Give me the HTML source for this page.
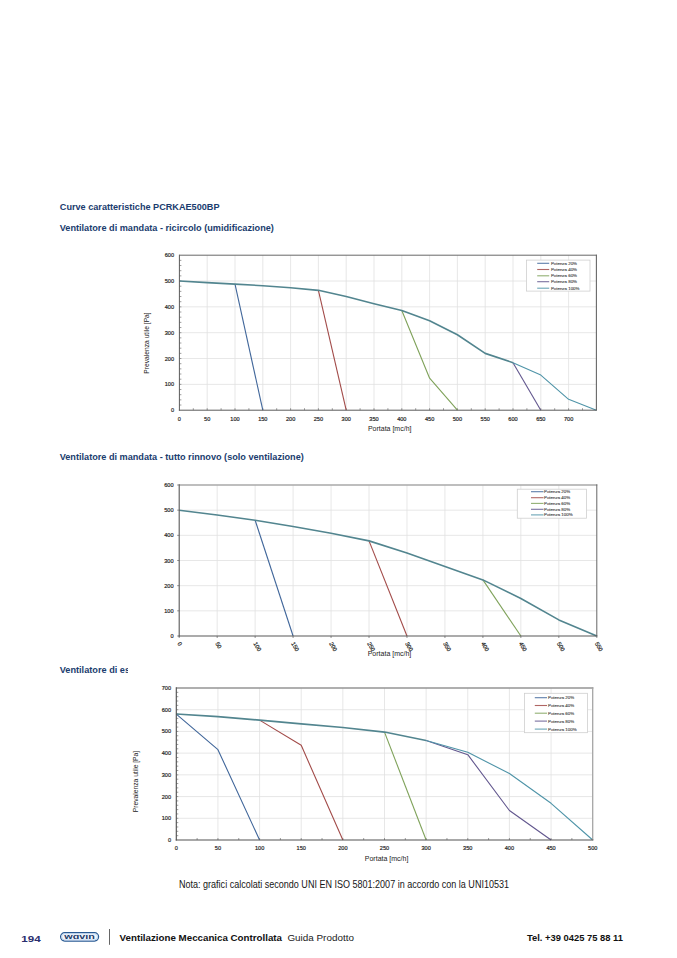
<!DOCTYPE html>
<html><head><meta charset="utf-8"><title>Curve caratteristiche</title>
<style>html,body{margin:0;padding:0;background:#fff;width:677px;height:958px;overflow:hidden}svg{display:block}text{font-family:"Liberation Sans",sans-serif}</style>
</head><body>
<svg width="677" height="958" viewBox="0 0 677 958">
<text x="59.80" y="209.80" font-size="9.6" font-weight="bold" fill="#1a3c6e" text-anchor="start" textLength="159.7" lengthAdjust="spacingAndGlyphs">Curve caratteristiche PCRKAE500BP</text>
<text x="59.70" y="230.90" font-size="9.6" font-weight="bold" fill="#1a3c6e" text-anchor="start" textLength="214.2" lengthAdjust="spacingAndGlyphs">Ventilatore di mandata - ricircolo (umidificazione)</text>
<text x="59.70" y="459.80" font-size="9.6" font-weight="bold" fill="#1a3c6e" text-anchor="start" textLength="244.1" lengthAdjust="spacingAndGlyphs">Ventilatore di mandata - tutto rinnovo (solo ventilazione)</text>
<clipPath id="h3c"><rect x="50" y="655" width="78" height="25"/></clipPath>
<text x="59.70" y="672.80" font-size="9.6" font-weight="bold" fill="#1a3c6e" text-anchor="start" textLength="108.1" lengthAdjust="spacingAndGlyphs" clip-path="url(#h3c)">Ventilatore di espulsione</text>
<rect x="128" y="245" width="480" height="195" fill="#fff"/>
<line x1="207.20" y1="255.20" x2="207.20" y2="410.20" stroke="#e1e1e1" stroke-width="0.8" />
<line x1="235.00" y1="255.20" x2="235.00" y2="410.20" stroke="#e1e1e1" stroke-width="0.8" />
<line x1="262.80" y1="255.20" x2="262.80" y2="410.20" stroke="#e1e1e1" stroke-width="0.8" />
<line x1="290.60" y1="255.20" x2="290.60" y2="410.20" stroke="#e1e1e1" stroke-width="0.8" />
<line x1="318.40" y1="255.20" x2="318.40" y2="410.20" stroke="#e1e1e1" stroke-width="0.8" />
<line x1="346.20" y1="255.20" x2="346.20" y2="410.20" stroke="#e1e1e1" stroke-width="0.8" />
<line x1="374.00" y1="255.20" x2="374.00" y2="410.20" stroke="#e1e1e1" stroke-width="0.8" />
<line x1="401.80" y1="255.20" x2="401.80" y2="410.20" stroke="#e1e1e1" stroke-width="0.8" />
<line x1="429.60" y1="255.20" x2="429.60" y2="410.20" stroke="#e1e1e1" stroke-width="0.8" />
<line x1="457.40" y1="255.20" x2="457.40" y2="410.20" stroke="#e1e1e1" stroke-width="0.8" />
<line x1="485.20" y1="255.20" x2="485.20" y2="410.20" stroke="#e1e1e1" stroke-width="0.8" />
<line x1="513.00" y1="255.20" x2="513.00" y2="410.20" stroke="#e1e1e1" stroke-width="0.8" />
<line x1="540.80" y1="255.20" x2="540.80" y2="410.20" stroke="#e1e1e1" stroke-width="0.8" />
<line x1="568.60" y1="255.20" x2="568.60" y2="410.20" stroke="#e1e1e1" stroke-width="0.8" />
<line x1="179.40" y1="384.37" x2="596.40" y2="384.37" stroke="#e1e1e1" stroke-width="0.8" />
<line x1="179.40" y1="358.53" x2="596.40" y2="358.53" stroke="#e1e1e1" stroke-width="0.8" />
<line x1="179.40" y1="332.70" x2="596.40" y2="332.70" stroke="#e1e1e1" stroke-width="0.8" />
<line x1="179.40" y1="306.87" x2="596.40" y2="306.87" stroke="#e1e1e1" stroke-width="0.8" />
<line x1="179.40" y1="281.03" x2="596.40" y2="281.03" stroke="#e1e1e1" stroke-width="0.8" />
<line x1="193.30" y1="410.20" x2="193.30" y2="408.20" stroke="#747474" stroke-width="0.7" />
<line x1="207.20" y1="410.20" x2="207.20" y2="408.20" stroke="#747474" stroke-width="0.7" />
<line x1="221.10" y1="410.20" x2="221.10" y2="408.20" stroke="#747474" stroke-width="0.7" />
<line x1="235.00" y1="410.20" x2="235.00" y2="408.20" stroke="#747474" stroke-width="0.7" />
<line x1="248.90" y1="410.20" x2="248.90" y2="408.20" stroke="#747474" stroke-width="0.7" />
<line x1="262.80" y1="410.20" x2="262.80" y2="408.20" stroke="#747474" stroke-width="0.7" />
<line x1="276.70" y1="410.20" x2="276.70" y2="408.20" stroke="#747474" stroke-width="0.7" />
<line x1="290.60" y1="410.20" x2="290.60" y2="408.20" stroke="#747474" stroke-width="0.7" />
<line x1="304.50" y1="410.20" x2="304.50" y2="408.20" stroke="#747474" stroke-width="0.7" />
<line x1="318.40" y1="410.20" x2="318.40" y2="408.20" stroke="#747474" stroke-width="0.7" />
<line x1="332.30" y1="410.20" x2="332.30" y2="408.20" stroke="#747474" stroke-width="0.7" />
<line x1="346.20" y1="410.20" x2="346.20" y2="408.20" stroke="#747474" stroke-width="0.7" />
<line x1="360.10" y1="410.20" x2="360.10" y2="408.20" stroke="#747474" stroke-width="0.7" />
<line x1="374.00" y1="410.20" x2="374.00" y2="408.20" stroke="#747474" stroke-width="0.7" />
<line x1="387.90" y1="410.20" x2="387.90" y2="408.20" stroke="#747474" stroke-width="0.7" />
<line x1="401.80" y1="410.20" x2="401.80" y2="408.20" stroke="#747474" stroke-width="0.7" />
<line x1="415.70" y1="410.20" x2="415.70" y2="408.20" stroke="#747474" stroke-width="0.7" />
<line x1="429.60" y1="410.20" x2="429.60" y2="408.20" stroke="#747474" stroke-width="0.7" />
<line x1="443.50" y1="410.20" x2="443.50" y2="408.20" stroke="#747474" stroke-width="0.7" />
<line x1="457.40" y1="410.20" x2="457.40" y2="408.20" stroke="#747474" stroke-width="0.7" />
<line x1="471.30" y1="410.20" x2="471.30" y2="408.20" stroke="#747474" stroke-width="0.7" />
<line x1="485.20" y1="410.20" x2="485.20" y2="408.20" stroke="#747474" stroke-width="0.7" />
<line x1="499.10" y1="410.20" x2="499.10" y2="408.20" stroke="#747474" stroke-width="0.7" />
<line x1="513.00" y1="410.20" x2="513.00" y2="408.20" stroke="#747474" stroke-width="0.7" />
<line x1="526.90" y1="410.20" x2="526.90" y2="408.20" stroke="#747474" stroke-width="0.7" />
<line x1="540.80" y1="410.20" x2="540.80" y2="408.20" stroke="#747474" stroke-width="0.7" />
<line x1="554.70" y1="410.20" x2="554.70" y2="408.20" stroke="#747474" stroke-width="0.7" />
<line x1="568.60" y1="410.20" x2="568.60" y2="408.20" stroke="#747474" stroke-width="0.7" />
<line x1="582.50" y1="410.20" x2="582.50" y2="408.20" stroke="#747474" stroke-width="0.7" />
<line x1="179.40" y1="405.03" x2="181.40" y2="405.03" stroke="#747474" stroke-width="0.7" />
<line x1="179.40" y1="399.87" x2="181.40" y2="399.87" stroke="#747474" stroke-width="0.7" />
<line x1="179.40" y1="394.70" x2="181.40" y2="394.70" stroke="#747474" stroke-width="0.7" />
<line x1="179.40" y1="389.53" x2="181.40" y2="389.53" stroke="#747474" stroke-width="0.7" />
<line x1="179.40" y1="384.37" x2="181.40" y2="384.37" stroke="#747474" stroke-width="0.7" />
<line x1="179.40" y1="379.20" x2="181.40" y2="379.20" stroke="#747474" stroke-width="0.7" />
<line x1="179.40" y1="374.03" x2="181.40" y2="374.03" stroke="#747474" stroke-width="0.7" />
<line x1="179.40" y1="368.87" x2="181.40" y2="368.87" stroke="#747474" stroke-width="0.7" />
<line x1="179.40" y1="363.70" x2="181.40" y2="363.70" stroke="#747474" stroke-width="0.7" />
<line x1="179.40" y1="358.53" x2="181.40" y2="358.53" stroke="#747474" stroke-width="0.7" />
<line x1="179.40" y1="353.37" x2="181.40" y2="353.37" stroke="#747474" stroke-width="0.7" />
<line x1="179.40" y1="348.20" x2="181.40" y2="348.20" stroke="#747474" stroke-width="0.7" />
<line x1="179.40" y1="343.03" x2="181.40" y2="343.03" stroke="#747474" stroke-width="0.7" />
<line x1="179.40" y1="337.87" x2="181.40" y2="337.87" stroke="#747474" stroke-width="0.7" />
<line x1="179.40" y1="332.70" x2="181.40" y2="332.70" stroke="#747474" stroke-width="0.7" />
<line x1="179.40" y1="327.53" x2="181.40" y2="327.53" stroke="#747474" stroke-width="0.7" />
<line x1="179.40" y1="322.37" x2="181.40" y2="322.37" stroke="#747474" stroke-width="0.7" />
<line x1="179.40" y1="317.20" x2="181.40" y2="317.20" stroke="#747474" stroke-width="0.7" />
<line x1="179.40" y1="312.03" x2="181.40" y2="312.03" stroke="#747474" stroke-width="0.7" />
<line x1="179.40" y1="306.87" x2="181.40" y2="306.87" stroke="#747474" stroke-width="0.7" />
<line x1="179.40" y1="301.70" x2="181.40" y2="301.70" stroke="#747474" stroke-width="0.7" />
<line x1="179.40" y1="296.53" x2="181.40" y2="296.53" stroke="#747474" stroke-width="0.7" />
<line x1="179.40" y1="291.37" x2="181.40" y2="291.37" stroke="#747474" stroke-width="0.7" />
<line x1="179.40" y1="286.20" x2="181.40" y2="286.20" stroke="#747474" stroke-width="0.7" />
<line x1="179.40" y1="281.03" x2="181.40" y2="281.03" stroke="#747474" stroke-width="0.7" />
<line x1="179.40" y1="275.87" x2="181.40" y2="275.87" stroke="#747474" stroke-width="0.7" />
<line x1="179.40" y1="270.70" x2="181.40" y2="270.70" stroke="#747474" stroke-width="0.7" />
<line x1="179.40" y1="265.53" x2="181.40" y2="265.53" stroke="#747474" stroke-width="0.7" />
<line x1="179.40" y1="260.37" x2="181.40" y2="260.37" stroke="#747474" stroke-width="0.7" />
<polyline points="235.00,284.13 262.80,410.20" fill="none" stroke="#40669a" stroke-width="1.1" stroke-linejoin="round" />
<polyline points="318.40,290.33 346.20,410.20" fill="none" stroke="#a24b49" stroke-width="1.1" stroke-linejoin="round" />
<polyline points="401.80,310.48 429.60,378.17 457.40,410.20" fill="none" stroke="#7fa25a" stroke-width="1.1" stroke-linejoin="round" />
<polyline points="513.00,362.67 540.80,410.20" fill="none" stroke="#62578e" stroke-width="1.1" stroke-linejoin="round" />
<polyline points="513.00,362.67 540.80,375.07 568.60,399.35 596.40,410.20" fill="none" stroke="#4f94a8" stroke-width="1.1" stroke-linejoin="round" />
<polyline points="179.40,281.03 207.20,282.58 235.00,284.13 262.80,285.68 290.60,287.75 318.40,290.33 346.20,296.53 374.00,303.77 401.80,310.48 429.60,320.82 457.40,334.77 485.20,353.37 513.00,362.67" fill="none" stroke="#52858f" stroke-width="1.6" stroke-linejoin="round" />
<line x1="179.40" y1="255.20" x2="596.95" y2="255.20" stroke="#676767" stroke-width="1.0" />
<line x1="596.40" y1="254.70" x2="596.40" y2="410.20" stroke="#676767" stroke-width="1.1" />
<line x1="179.40" y1="254.70" x2="179.40" y2="410.70" stroke="#5a5a5a" stroke-width="1.0" />
<line x1="178.90" y1="410.20" x2="596.90" y2="410.20" stroke="#5a5a5a" stroke-width="1.0" />
<text x="174.00" y="412.22" font-size="5.6" font-weight="normal" fill="#222" text-anchor="end" stroke="#222" stroke-width="0.18">0</text>
<text x="174.00" y="386.38" font-size="5.6" font-weight="normal" fill="#222" text-anchor="end" stroke="#222" stroke-width="0.18">100</text>
<text x="174.00" y="360.55" font-size="5.6" font-weight="normal" fill="#222" text-anchor="end" stroke="#222" stroke-width="0.18">200</text>
<text x="174.00" y="334.72" font-size="5.6" font-weight="normal" fill="#222" text-anchor="end" stroke="#222" stroke-width="0.18">300</text>
<text x="174.00" y="308.88" font-size="5.6" font-weight="normal" fill="#222" text-anchor="end" stroke="#222" stroke-width="0.18">400</text>
<text x="174.00" y="283.05" font-size="5.6" font-weight="normal" fill="#222" text-anchor="end" stroke="#222" stroke-width="0.18">500</text>
<text x="174.00" y="257.22" font-size="5.6" font-weight="normal" fill="#222" text-anchor="end" stroke="#222" stroke-width="0.18">600</text>
<text x="179.40" y="420.60" font-size="5.6" font-weight="normal" fill="#222" text-anchor="middle" stroke="#222" stroke-width="0.18">0</text>
<text x="207.20" y="420.60" font-size="5.6" font-weight="normal" fill="#222" text-anchor="middle" stroke="#222" stroke-width="0.18">50</text>
<text x="235.00" y="420.60" font-size="5.6" font-weight="normal" fill="#222" text-anchor="middle" stroke="#222" stroke-width="0.18">100</text>
<text x="262.80" y="420.60" font-size="5.6" font-weight="normal" fill="#222" text-anchor="middle" stroke="#222" stroke-width="0.18">150</text>
<text x="290.60" y="420.60" font-size="5.6" font-weight="normal" fill="#222" text-anchor="middle" stroke="#222" stroke-width="0.18">200</text>
<text x="318.40" y="420.60" font-size="5.6" font-weight="normal" fill="#222" text-anchor="middle" stroke="#222" stroke-width="0.18">250</text>
<text x="346.20" y="420.60" font-size="5.6" font-weight="normal" fill="#222" text-anchor="middle" stroke="#222" stroke-width="0.18">300</text>
<text x="374.00" y="420.60" font-size="5.6" font-weight="normal" fill="#222" text-anchor="middle" stroke="#222" stroke-width="0.18">350</text>
<text x="401.80" y="420.60" font-size="5.6" font-weight="normal" fill="#222" text-anchor="middle" stroke="#222" stroke-width="0.18">400</text>
<text x="429.60" y="420.60" font-size="5.6" font-weight="normal" fill="#222" text-anchor="middle" stroke="#222" stroke-width="0.18">450</text>
<text x="457.40" y="420.60" font-size="5.6" font-weight="normal" fill="#222" text-anchor="middle" stroke="#222" stroke-width="0.18">500</text>
<text x="485.20" y="420.60" font-size="5.6" font-weight="normal" fill="#222" text-anchor="middle" stroke="#222" stroke-width="0.18">550</text>
<text x="513.00" y="420.60" font-size="5.6" font-weight="normal" fill="#222" text-anchor="middle" stroke="#222" stroke-width="0.18">600</text>
<text x="540.80" y="420.60" font-size="5.6" font-weight="normal" fill="#222" text-anchor="middle" stroke="#222" stroke-width="0.18">650</text>
<text x="568.60" y="420.60" font-size="5.6" font-weight="normal" fill="#222" text-anchor="middle" stroke="#222" stroke-width="0.18">700</text>
<text x="389.70" y="430.50" font-size="7" font-weight="normal" fill="#222" text-anchor="middle" >Portata [mc/h]</text>
<text x="148.50" y="343.00" font-size="6.7" font-weight="normal" fill="#222" text-anchor="middle" transform="rotate(-90 148.50 343.00)">Prevalenza utile [Pa]</text>
<rect x="526.6" y="260.1" width="63.4" height="31.0" fill="#fff" stroke="#cfcfcf" stroke-width="0.8"/>
<line x1="537.20" y1="263.30" x2="549.20" y2="263.30" stroke="#40669a" stroke-width="1.1" stroke-opacity="0.85"/>
<text x="550.90" y="264.88" font-size="4.4" font-weight="normal" fill="#3a3a3a" text-anchor="start" stroke="#3a3a3a" stroke-width="0.1">Potenza 20%</text>
<line x1="537.20" y1="269.50" x2="549.20" y2="269.50" stroke="#a24b49" stroke-width="1.1" stroke-opacity="0.85"/>
<text x="550.90" y="271.08" font-size="4.4" font-weight="normal" fill="#3a3a3a" text-anchor="start" stroke="#3a3a3a" stroke-width="0.1">Potenza 40%</text>
<line x1="537.20" y1="275.80" x2="549.20" y2="275.80" stroke="#7fa25a" stroke-width="1.1" stroke-opacity="0.85"/>
<text x="550.90" y="277.38" font-size="4.4" font-weight="normal" fill="#3a3a3a" text-anchor="start" stroke="#3a3a3a" stroke-width="0.1">Potenza 60%</text>
<line x1="537.20" y1="281.70" x2="549.20" y2="281.70" stroke="#62578e" stroke-width="1.1" stroke-opacity="0.85"/>
<text x="550.90" y="283.28" font-size="4.4" font-weight="normal" fill="#3a3a3a" text-anchor="start" stroke="#3a3a3a" stroke-width="0.1">Potenza 80%</text>
<line x1="537.20" y1="288.20" x2="549.20" y2="288.20" stroke="#4f94a8" stroke-width="1.1" stroke-opacity="0.85"/>
<text x="550.90" y="289.78" font-size="4.4" font-weight="normal" fill="#3a3a3a" text-anchor="start" stroke="#3a3a3a" stroke-width="0.1">Potenza 100%</text>
<rect x="128" y="475" width="480" height="190" fill="#fff"/>
<line x1="217.16" y1="485.00" x2="217.16" y2="636.00" stroke="#e1e1e1" stroke-width="0.8" />
<line x1="255.13" y1="485.00" x2="255.13" y2="636.00" stroke="#e1e1e1" stroke-width="0.8" />
<line x1="293.09" y1="485.00" x2="293.09" y2="636.00" stroke="#e1e1e1" stroke-width="0.8" />
<line x1="331.05" y1="485.00" x2="331.05" y2="636.00" stroke="#e1e1e1" stroke-width="0.8" />
<line x1="369.02" y1="485.00" x2="369.02" y2="636.00" stroke="#e1e1e1" stroke-width="0.8" />
<line x1="406.98" y1="485.00" x2="406.98" y2="636.00" stroke="#e1e1e1" stroke-width="0.8" />
<line x1="444.95" y1="485.00" x2="444.95" y2="636.00" stroke="#e1e1e1" stroke-width="0.8" />
<line x1="482.91" y1="485.00" x2="482.91" y2="636.00" stroke="#e1e1e1" stroke-width="0.8" />
<line x1="520.87" y1="485.00" x2="520.87" y2="636.00" stroke="#e1e1e1" stroke-width="0.8" />
<line x1="558.84" y1="485.00" x2="558.84" y2="636.00" stroke="#e1e1e1" stroke-width="0.8" />
<line x1="179.20" y1="610.83" x2="596.80" y2="610.83" stroke="#e1e1e1" stroke-width="0.8" />
<line x1="179.20" y1="585.67" x2="596.80" y2="585.67" stroke="#e1e1e1" stroke-width="0.8" />
<line x1="179.20" y1="560.50" x2="596.80" y2="560.50" stroke="#e1e1e1" stroke-width="0.8" />
<line x1="179.20" y1="535.33" x2="596.80" y2="535.33" stroke="#e1e1e1" stroke-width="0.8" />
<line x1="179.20" y1="510.17" x2="596.80" y2="510.17" stroke="#e1e1e1" stroke-width="0.8" />
<line x1="179.20" y1="636.00" x2="179.20" y2="638.00" stroke="#747474" stroke-width="0.8" />
<line x1="217.16" y1="636.00" x2="217.16" y2="638.00" stroke="#747474" stroke-width="0.8" />
<line x1="255.13" y1="636.00" x2="255.13" y2="638.00" stroke="#747474" stroke-width="0.8" />
<line x1="293.09" y1="636.00" x2="293.09" y2="638.00" stroke="#747474" stroke-width="0.8" />
<line x1="331.05" y1="636.00" x2="331.05" y2="638.00" stroke="#747474" stroke-width="0.8" />
<line x1="369.02" y1="636.00" x2="369.02" y2="638.00" stroke="#747474" stroke-width="0.8" />
<line x1="406.98" y1="636.00" x2="406.98" y2="638.00" stroke="#747474" stroke-width="0.8" />
<line x1="444.95" y1="636.00" x2="444.95" y2="638.00" stroke="#747474" stroke-width="0.8" />
<line x1="482.91" y1="636.00" x2="482.91" y2="638.00" stroke="#747474" stroke-width="0.8" />
<line x1="520.87" y1="636.00" x2="520.87" y2="638.00" stroke="#747474" stroke-width="0.8" />
<line x1="558.84" y1="636.00" x2="558.84" y2="638.00" stroke="#747474" stroke-width="0.8" />
<line x1="596.80" y1="636.00" x2="596.80" y2="638.00" stroke="#747474" stroke-width="0.8" />
<line x1="177.20" y1="636.00" x2="179.20" y2="636.00" stroke="#747474" stroke-width="0.8" />
<line x1="177.20" y1="610.83" x2="179.20" y2="610.83" stroke="#747474" stroke-width="0.8" />
<line x1="177.20" y1="585.67" x2="179.20" y2="585.67" stroke="#747474" stroke-width="0.8" />
<line x1="177.20" y1="560.50" x2="179.20" y2="560.50" stroke="#747474" stroke-width="0.8" />
<line x1="177.20" y1="535.33" x2="179.20" y2="535.33" stroke="#747474" stroke-width="0.8" />
<line x1="177.20" y1="510.17" x2="179.20" y2="510.17" stroke="#747474" stroke-width="0.8" />
<line x1="177.20" y1="485.00" x2="179.20" y2="485.00" stroke="#747474" stroke-width="0.8" />
<polyline points="255.13,520.23 293.09,636.00" fill="none" stroke="#40669a" stroke-width="1.1" stroke-linejoin="round" />
<polyline points="369.02,540.87 406.98,636.00" fill="none" stroke="#a24b49" stroke-width="1.1" stroke-linejoin="round" />
<polyline points="482.91,579.88 520.87,636.00" fill="none" stroke="#7fa25a" stroke-width="1.1" stroke-linejoin="round" />
<polyline points="179.20,510.17 217.16,514.95 255.13,520.23 293.09,526.52 331.05,533.32 369.02,540.87 406.98,552.95 444.95,566.54 482.91,579.88 520.87,598.50 558.84,619.89 596.80,636.00" fill="none" stroke="#52858f" stroke-width="1.6" stroke-linejoin="round" />
<line x1="179.20" y1="485.00" x2="597.30" y2="485.00" stroke="#a8a8a8" stroke-width="1.3" />
<line x1="596.80" y1="484.35" x2="596.80" y2="636.00" stroke="#666666" stroke-width="1.0" />
<line x1="179.20" y1="484.35" x2="179.20" y2="636.55" stroke="#585858" stroke-width="1.1" />
<line x1="178.65" y1="636.00" x2="597.45" y2="636.00" stroke="#585858" stroke-width="1.1" />
<text x="173.50" y="638.02" font-size="5.6" font-weight="normal" fill="#222" text-anchor="end" stroke="#222" stroke-width="0.18">0</text>
<text x="173.50" y="612.85" font-size="5.6" font-weight="normal" fill="#222" text-anchor="end" stroke="#222" stroke-width="0.18">100</text>
<text x="173.50" y="587.68" font-size="5.6" font-weight="normal" fill="#222" text-anchor="end" stroke="#222" stroke-width="0.18">200</text>
<text x="173.50" y="562.52" font-size="5.6" font-weight="normal" fill="#222" text-anchor="end" stroke="#222" stroke-width="0.18">300</text>
<text x="173.50" y="537.35" font-size="5.6" font-weight="normal" fill="#222" text-anchor="end" stroke="#222" stroke-width="0.18">400</text>
<text x="173.50" y="512.18" font-size="5.6" font-weight="normal" fill="#222" text-anchor="end" stroke="#222" stroke-width="0.18">500</text>
<text x="173.50" y="487.02" font-size="5.6" font-weight="normal" fill="#222" text-anchor="end" stroke="#222" stroke-width="0.18">600</text>
<text x="177.20" y="643.40" font-size="5.85" font-weight="normal" fill="#222" text-anchor="start" stroke="#222" stroke-width="0.18" transform="rotate(60 177.20 643.40)">0</text>
<text x="215.16" y="643.40" font-size="5.85" font-weight="normal" fill="#222" text-anchor="start" stroke="#222" stroke-width="0.18" transform="rotate(60 215.16 643.40)">50</text>
<text x="253.13" y="643.40" font-size="5.85" font-weight="normal" fill="#222" text-anchor="start" stroke="#222" stroke-width="0.18" transform="rotate(60 253.13 643.40)">100</text>
<text x="291.09" y="643.40" font-size="5.85" font-weight="normal" fill="#222" text-anchor="start" stroke="#222" stroke-width="0.18" transform="rotate(60 291.09 643.40)">150</text>
<text x="329.05" y="643.40" font-size="5.85" font-weight="normal" fill="#222" text-anchor="start" stroke="#222" stroke-width="0.18" transform="rotate(60 329.05 643.40)">200</text>
<text x="367.02" y="643.40" font-size="5.85" font-weight="normal" fill="#222" text-anchor="start" stroke="#222" stroke-width="0.18" transform="rotate(60 367.02 643.40)">250</text>
<text x="404.98" y="643.40" font-size="5.85" font-weight="normal" fill="#222" text-anchor="start" stroke="#222" stroke-width="0.18" transform="rotate(60 404.98 643.40)">300</text>
<text x="442.95" y="643.40" font-size="5.85" font-weight="normal" fill="#222" text-anchor="start" stroke="#222" stroke-width="0.18" transform="rotate(60 442.95 643.40)">350</text>
<text x="480.91" y="643.40" font-size="5.85" font-weight="normal" fill="#222" text-anchor="start" stroke="#222" stroke-width="0.18" transform="rotate(60 480.91 643.40)">400</text>
<text x="518.87" y="643.40" font-size="5.85" font-weight="normal" fill="#222" text-anchor="start" stroke="#222" stroke-width="0.18" transform="rotate(60 518.87 643.40)">450</text>
<text x="556.84" y="643.40" font-size="5.85" font-weight="normal" fill="#222" text-anchor="start" stroke="#222" stroke-width="0.18" transform="rotate(60 556.84 643.40)">500</text>
<text x="594.80" y="643.40" font-size="5.85" font-weight="normal" fill="#222" text-anchor="start" stroke="#222" stroke-width="0.18" transform="rotate(60 594.80 643.40)">550</text>
<text x="389.50" y="655.50" font-size="7" font-weight="normal" fill="#222" text-anchor="middle" >Portata [mc/h]</text>
<rect x="517.3" y="489.2" width="69.2" height="29.0" fill="#fff" stroke="#cfcfcf" stroke-width="0.8"/>
<line x1="531.00" y1="491.70" x2="543.50" y2="491.70" stroke="#40669a" stroke-width="1.1" stroke-opacity="0.85"/>
<text x="544.00" y="493.28" font-size="4.4" font-weight="normal" fill="#3a3a3a" text-anchor="start" stroke="#3a3a3a" stroke-width="0.1">Potenza 20%</text>
<line x1="531.00" y1="497.70" x2="543.50" y2="497.70" stroke="#a24b49" stroke-width="1.1" stroke-opacity="0.85"/>
<text x="544.00" y="499.28" font-size="4.4" font-weight="normal" fill="#3a3a3a" text-anchor="start" stroke="#3a3a3a" stroke-width="0.1">Potenza 40%</text>
<line x1="531.00" y1="503.40" x2="543.50" y2="503.40" stroke="#7fa25a" stroke-width="1.1" stroke-opacity="0.85"/>
<text x="544.00" y="504.98" font-size="4.4" font-weight="normal" fill="#3a3a3a" text-anchor="start" stroke="#3a3a3a" stroke-width="0.1">Potenza 60%</text>
<line x1="531.00" y1="509.30" x2="543.50" y2="509.30" stroke="#62578e" stroke-width="1.1" stroke-opacity="0.85"/>
<text x="544.00" y="510.88" font-size="4.4" font-weight="normal" fill="#3a3a3a" text-anchor="start" stroke="#3a3a3a" stroke-width="0.1">Potenza 80%</text>
<line x1="531.00" y1="514.90" x2="543.50" y2="514.90" stroke="#4f94a8" stroke-width="1.1" stroke-opacity="0.85"/>
<text x="544.00" y="516.48" font-size="4.4" font-weight="normal" fill="#3a3a3a" text-anchor="start" stroke="#3a3a3a" stroke-width="0.1">Potenza 100%</text>
<rect x="128" y="680" width="480" height="190" fill="#fff"/>
<line x1="217.94" y1="688.00" x2="217.94" y2="840.00" stroke="#e1e1e1" stroke-width="0.8" />
<line x1="259.58" y1="688.00" x2="259.58" y2="840.00" stroke="#e1e1e1" stroke-width="0.8" />
<line x1="301.22" y1="688.00" x2="301.22" y2="840.00" stroke="#e1e1e1" stroke-width="0.8" />
<line x1="342.86" y1="688.00" x2="342.86" y2="840.00" stroke="#e1e1e1" stroke-width="0.8" />
<line x1="384.50" y1="688.00" x2="384.50" y2="840.00" stroke="#e1e1e1" stroke-width="0.8" />
<line x1="426.14" y1="688.00" x2="426.14" y2="840.00" stroke="#e1e1e1" stroke-width="0.8" />
<line x1="467.78" y1="688.00" x2="467.78" y2="840.00" stroke="#e1e1e1" stroke-width="0.8" />
<line x1="509.42" y1="688.00" x2="509.42" y2="840.00" stroke="#e1e1e1" stroke-width="0.8" />
<line x1="551.06" y1="688.00" x2="551.06" y2="840.00" stroke="#e1e1e1" stroke-width="0.8" />
<line x1="176.30" y1="818.29" x2="592.70" y2="818.29" stroke="#e1e1e1" stroke-width="0.8" />
<line x1="176.30" y1="796.57" x2="592.70" y2="796.57" stroke="#e1e1e1" stroke-width="0.8" />
<line x1="176.30" y1="774.86" x2="592.70" y2="774.86" stroke="#e1e1e1" stroke-width="0.8" />
<line x1="176.30" y1="753.14" x2="592.70" y2="753.14" stroke="#e1e1e1" stroke-width="0.8" />
<line x1="176.30" y1="731.43" x2="592.70" y2="731.43" stroke="#e1e1e1" stroke-width="0.8" />
<line x1="176.30" y1="709.71" x2="592.70" y2="709.71" stroke="#e1e1e1" stroke-width="0.8" />
<line x1="197.12" y1="840.00" x2="197.12" y2="838.00" stroke="#747474" stroke-width="0.7" />
<line x1="217.94" y1="840.00" x2="217.94" y2="838.00" stroke="#747474" stroke-width="0.7" />
<line x1="238.76" y1="840.00" x2="238.76" y2="838.00" stroke="#747474" stroke-width="0.7" />
<line x1="259.58" y1="840.00" x2="259.58" y2="838.00" stroke="#747474" stroke-width="0.7" />
<line x1="280.40" y1="840.00" x2="280.40" y2="838.00" stroke="#747474" stroke-width="0.7" />
<line x1="301.22" y1="840.00" x2="301.22" y2="838.00" stroke="#747474" stroke-width="0.7" />
<line x1="322.04" y1="840.00" x2="322.04" y2="838.00" stroke="#747474" stroke-width="0.7" />
<line x1="342.86" y1="840.00" x2="342.86" y2="838.00" stroke="#747474" stroke-width="0.7" />
<line x1="363.68" y1="840.00" x2="363.68" y2="838.00" stroke="#747474" stroke-width="0.7" />
<line x1="384.50" y1="840.00" x2="384.50" y2="838.00" stroke="#747474" stroke-width="0.7" />
<line x1="405.32" y1="840.00" x2="405.32" y2="838.00" stroke="#747474" stroke-width="0.7" />
<line x1="426.14" y1="840.00" x2="426.14" y2="838.00" stroke="#747474" stroke-width="0.7" />
<line x1="446.96" y1="840.00" x2="446.96" y2="838.00" stroke="#747474" stroke-width="0.7" />
<line x1="467.78" y1="840.00" x2="467.78" y2="838.00" stroke="#747474" stroke-width="0.7" />
<line x1="488.60" y1="840.00" x2="488.60" y2="838.00" stroke="#747474" stroke-width="0.7" />
<line x1="509.42" y1="840.00" x2="509.42" y2="838.00" stroke="#747474" stroke-width="0.7" />
<line x1="530.24" y1="840.00" x2="530.24" y2="838.00" stroke="#747474" stroke-width="0.7" />
<line x1="551.06" y1="840.00" x2="551.06" y2="838.00" stroke="#747474" stroke-width="0.7" />
<line x1="571.88" y1="840.00" x2="571.88" y2="838.00" stroke="#747474" stroke-width="0.7" />
<line x1="176.30" y1="835.66" x2="178.30" y2="835.66" stroke="#747474" stroke-width="0.7" />
<line x1="176.30" y1="831.31" x2="178.30" y2="831.31" stroke="#747474" stroke-width="0.7" />
<line x1="176.30" y1="826.97" x2="178.30" y2="826.97" stroke="#747474" stroke-width="0.7" />
<line x1="176.30" y1="822.63" x2="178.30" y2="822.63" stroke="#747474" stroke-width="0.7" />
<line x1="176.30" y1="818.29" x2="178.30" y2="818.29" stroke="#747474" stroke-width="0.7" />
<line x1="176.30" y1="813.94" x2="178.30" y2="813.94" stroke="#747474" stroke-width="0.7" />
<line x1="176.30" y1="809.60" x2="178.30" y2="809.60" stroke="#747474" stroke-width="0.7" />
<line x1="176.30" y1="805.26" x2="178.30" y2="805.26" stroke="#747474" stroke-width="0.7" />
<line x1="176.30" y1="800.91" x2="178.30" y2="800.91" stroke="#747474" stroke-width="0.7" />
<line x1="176.30" y1="796.57" x2="178.30" y2="796.57" stroke="#747474" stroke-width="0.7" />
<line x1="176.30" y1="792.23" x2="178.30" y2="792.23" stroke="#747474" stroke-width="0.7" />
<line x1="176.30" y1="787.89" x2="178.30" y2="787.89" stroke="#747474" stroke-width="0.7" />
<line x1="176.30" y1="783.54" x2="178.30" y2="783.54" stroke="#747474" stroke-width="0.7" />
<line x1="176.30" y1="779.20" x2="178.30" y2="779.20" stroke="#747474" stroke-width="0.7" />
<line x1="176.30" y1="774.86" x2="178.30" y2="774.86" stroke="#747474" stroke-width="0.7" />
<line x1="176.30" y1="770.51" x2="178.30" y2="770.51" stroke="#747474" stroke-width="0.7" />
<line x1="176.30" y1="766.17" x2="178.30" y2="766.17" stroke="#747474" stroke-width="0.7" />
<line x1="176.30" y1="761.83" x2="178.30" y2="761.83" stroke="#747474" stroke-width="0.7" />
<line x1="176.30" y1="757.49" x2="178.30" y2="757.49" stroke="#747474" stroke-width="0.7" />
<line x1="176.30" y1="753.14" x2="178.30" y2="753.14" stroke="#747474" stroke-width="0.7" />
<line x1="176.30" y1="748.80" x2="178.30" y2="748.80" stroke="#747474" stroke-width="0.7" />
<line x1="176.30" y1="744.46" x2="178.30" y2="744.46" stroke="#747474" stroke-width="0.7" />
<line x1="176.30" y1="740.11" x2="178.30" y2="740.11" stroke="#747474" stroke-width="0.7" />
<line x1="176.30" y1="735.77" x2="178.30" y2="735.77" stroke="#747474" stroke-width="0.7" />
<line x1="176.30" y1="731.43" x2="178.30" y2="731.43" stroke="#747474" stroke-width="0.7" />
<line x1="176.30" y1="727.09" x2="178.30" y2="727.09" stroke="#747474" stroke-width="0.7" />
<line x1="176.30" y1="722.74" x2="178.30" y2="722.74" stroke="#747474" stroke-width="0.7" />
<line x1="176.30" y1="718.40" x2="178.30" y2="718.40" stroke="#747474" stroke-width="0.7" />
<line x1="176.30" y1="714.06" x2="178.30" y2="714.06" stroke="#747474" stroke-width="0.7" />
<line x1="176.30" y1="709.71" x2="178.30" y2="709.71" stroke="#747474" stroke-width="0.7" />
<line x1="176.30" y1="705.37" x2="178.30" y2="705.37" stroke="#747474" stroke-width="0.7" />
<line x1="176.30" y1="701.03" x2="178.30" y2="701.03" stroke="#747474" stroke-width="0.7" />
<line x1="176.30" y1="696.69" x2="178.30" y2="696.69" stroke="#747474" stroke-width="0.7" />
<line x1="176.30" y1="692.34" x2="178.30" y2="692.34" stroke="#747474" stroke-width="0.7" />
<polyline points="176.30,714.06 217.94,749.67 259.58,840.00" fill="none" stroke="#40669a" stroke-width="1.1" stroke-linejoin="round" />
<polyline points="259.58,720.14 301.22,745.33 342.86,840.00" fill="none" stroke="#a24b49" stroke-width="1.1" stroke-linejoin="round" />
<polyline points="384.50,732.08 426.14,840.00" fill="none" stroke="#7fa25a" stroke-width="1.1" stroke-linejoin="round" />
<polyline points="426.14,740.55 467.78,754.66 509.42,810.47 551.06,840.00" fill="none" stroke="#62578e" stroke-width="1.1" stroke-linejoin="round" />
<polyline points="426.14,740.55 467.78,752.27 509.42,773.55 551.06,803.30 592.70,840.00" fill="none" stroke="#4f94a8" stroke-width="1.1" stroke-linejoin="round" />
<polyline points="176.30,714.06 217.94,716.66 259.58,720.14 301.22,723.83 342.86,727.52 384.50,732.08 426.14,740.55" fill="none" stroke="#52858f" stroke-width="1.6" stroke-linejoin="round" />
<line x1="176.30" y1="688.00" x2="593.35" y2="688.00" stroke="#959595" stroke-width="1.4" />
<line x1="592.70" y1="687.30" x2="592.70" y2="840.00" stroke="#a5a5a5" stroke-width="1.3" />
<line x1="176.30" y1="687.30" x2="176.30" y2="840.58" stroke="#525252" stroke-width="1.15" />
<line x1="175.73" y1="840.00" x2="593.40" y2="840.00" stroke="#525252" stroke-width="1.15" />
<text x="171.00" y="842.02" font-size="5.6" font-weight="normal" fill="#222" text-anchor="end" stroke="#222" stroke-width="0.18">0</text>
<text x="171.00" y="820.30" font-size="5.6" font-weight="normal" fill="#222" text-anchor="end" stroke="#222" stroke-width="0.18">100</text>
<text x="171.00" y="798.59" font-size="5.6" font-weight="normal" fill="#222" text-anchor="end" stroke="#222" stroke-width="0.18">200</text>
<text x="171.00" y="776.87" font-size="5.6" font-weight="normal" fill="#222" text-anchor="end" stroke="#222" stroke-width="0.18">300</text>
<text x="171.00" y="755.16" font-size="5.6" font-weight="normal" fill="#222" text-anchor="end" stroke="#222" stroke-width="0.18">400</text>
<text x="171.00" y="733.44" font-size="5.6" font-weight="normal" fill="#222" text-anchor="end" stroke="#222" stroke-width="0.18">500</text>
<text x="171.00" y="711.73" font-size="5.6" font-weight="normal" fill="#222" text-anchor="end" stroke="#222" stroke-width="0.18">600</text>
<text x="171.00" y="690.02" font-size="5.6" font-weight="normal" fill="#222" text-anchor="end" stroke="#222" stroke-width="0.18">700</text>
<text x="176.30" y="850.20" font-size="5.6" font-weight="normal" fill="#222" text-anchor="middle" stroke="#222" stroke-width="0.18">0</text>
<text x="217.94" y="850.20" font-size="5.6" font-weight="normal" fill="#222" text-anchor="middle" stroke="#222" stroke-width="0.18">50</text>
<text x="259.58" y="850.20" font-size="5.6" font-weight="normal" fill="#222" text-anchor="middle" stroke="#222" stroke-width="0.18">100</text>
<text x="301.22" y="850.20" font-size="5.6" font-weight="normal" fill="#222" text-anchor="middle" stroke="#222" stroke-width="0.18">150</text>
<text x="342.86" y="850.20" font-size="5.6" font-weight="normal" fill="#222" text-anchor="middle" stroke="#222" stroke-width="0.18">200</text>
<text x="384.50" y="850.20" font-size="5.6" font-weight="normal" fill="#222" text-anchor="middle" stroke="#222" stroke-width="0.18">250</text>
<text x="426.14" y="850.20" font-size="5.6" font-weight="normal" fill="#222" text-anchor="middle" stroke="#222" stroke-width="0.18">300</text>
<text x="467.78" y="850.20" font-size="5.6" font-weight="normal" fill="#222" text-anchor="middle" stroke="#222" stroke-width="0.18">350</text>
<text x="509.42" y="850.20" font-size="5.6" font-weight="normal" fill="#222" text-anchor="middle" stroke="#222" stroke-width="0.18">400</text>
<text x="551.06" y="850.20" font-size="5.6" font-weight="normal" fill="#222" text-anchor="middle" stroke="#222" stroke-width="0.18">450</text>
<text x="592.70" y="850.20" font-size="5.6" font-weight="normal" fill="#222" text-anchor="middle" stroke="#222" stroke-width="0.18">500</text>
<text x="386.60" y="860.80" font-size="7" font-weight="normal" fill="#222" text-anchor="middle" >Portata [mc/h]</text>
<text x="138.30" y="781.50" font-size="6.7" font-weight="normal" fill="#222" text-anchor="middle" transform="rotate(-90 138.30 781.50)">Prevalenza utile [Pa]</text>
<rect x="524.5" y="693.3" width="63.1" height="39.4" fill="#fff" stroke="#cfcfcf" stroke-width="0.8"/>
<line x1="534.80" y1="697.70" x2="547.00" y2="697.70" stroke="#40669a" stroke-width="1.1" stroke-opacity="0.85"/>
<text x="548.00" y="699.28" font-size="4.4" font-weight="normal" fill="#3a3a3a" text-anchor="start" stroke="#3a3a3a" stroke-width="0.1">Potenza 20%</text>
<line x1="534.80" y1="705.50" x2="547.00" y2="705.50" stroke="#a24b49" stroke-width="1.1" stroke-opacity="0.85"/>
<text x="548.00" y="707.08" font-size="4.4" font-weight="normal" fill="#3a3a3a" text-anchor="start" stroke="#3a3a3a" stroke-width="0.1">Potenza 40%</text>
<line x1="534.80" y1="713.20" x2="547.00" y2="713.20" stroke="#7fa25a" stroke-width="1.1" stroke-opacity="0.85"/>
<text x="548.00" y="714.78" font-size="4.4" font-weight="normal" fill="#3a3a3a" text-anchor="start" stroke="#3a3a3a" stroke-width="0.1">Potenza 60%</text>
<line x1="534.80" y1="721.10" x2="547.00" y2="721.10" stroke="#62578e" stroke-width="1.1" stroke-opacity="0.85"/>
<text x="548.00" y="722.68" font-size="4.4" font-weight="normal" fill="#3a3a3a" text-anchor="start" stroke="#3a3a3a" stroke-width="0.1">Potenza 80%</text>
<line x1="534.80" y1="729.10" x2="547.00" y2="729.10" stroke="#4f94a8" stroke-width="1.1" stroke-opacity="0.85"/>
<text x="548.00" y="730.68" font-size="4.4" font-weight="normal" fill="#3a3a3a" text-anchor="start" stroke="#3a3a3a" stroke-width="0.1">Potenza 100%</text>
<text x="179.00" y="888.20" font-size="10.2" font-weight="normal" fill="#161616" text-anchor="start" textLength="330" lengthAdjust="spacingAndGlyphs">Nota: grafici calcolati secondo UNI EN ISO 5801:2007 in accordo con la UNI10531</text>
<text x="21.30" y="941.80" font-size="9" font-weight="bold" fill="#2a2f6e" text-anchor="start" textLength="19.4" lengthAdjust="spacingAndGlyphs">194</text>
<rect x="60.6" y="932.7" width="38.0" height="8.3" rx="4.15" ry="4.15" fill="#f2f7fc" stroke="#2a5b94" stroke-width="1.25"/>
<rect x="61.7" y="933.8" width="35.8" height="6.1" rx="3.05" ry="3.05" fill="none" stroke="#bcd3ee" stroke-width="0.9"/>
<text x="64.30" y="939.30" font-size="7.4" font-weight="bold" fill="#1c3a6a" text-anchor="start" textLength="30.6" lengthAdjust="spacingAndGlyphs">wɑvın</text>
<line x1="109.50" y1="929.00" x2="109.50" y2="944.80" stroke="#555" stroke-width="0.9" />
<text x="119.60" y="941.00" font-size="9.2" font-weight="bold" fill="#111" text-anchor="start" textLength="162.4" lengthAdjust="spacingAndGlyphs">Ventilazione Meccanica Controllata</text>
<text x="287.40" y="941.00" font-size="9.4" font-weight="normal" fill="#222" text-anchor="start" textLength="66.5" lengthAdjust="spacingAndGlyphs">Guida Prodotto</text>
<text x="527.00" y="941.00" font-size="9.2" font-weight="bold" fill="#111" text-anchor="start" textLength="96" lengthAdjust="spacingAndGlyphs">Tel. +39 0425 75 88 11</text>
</svg>
</body></html>
